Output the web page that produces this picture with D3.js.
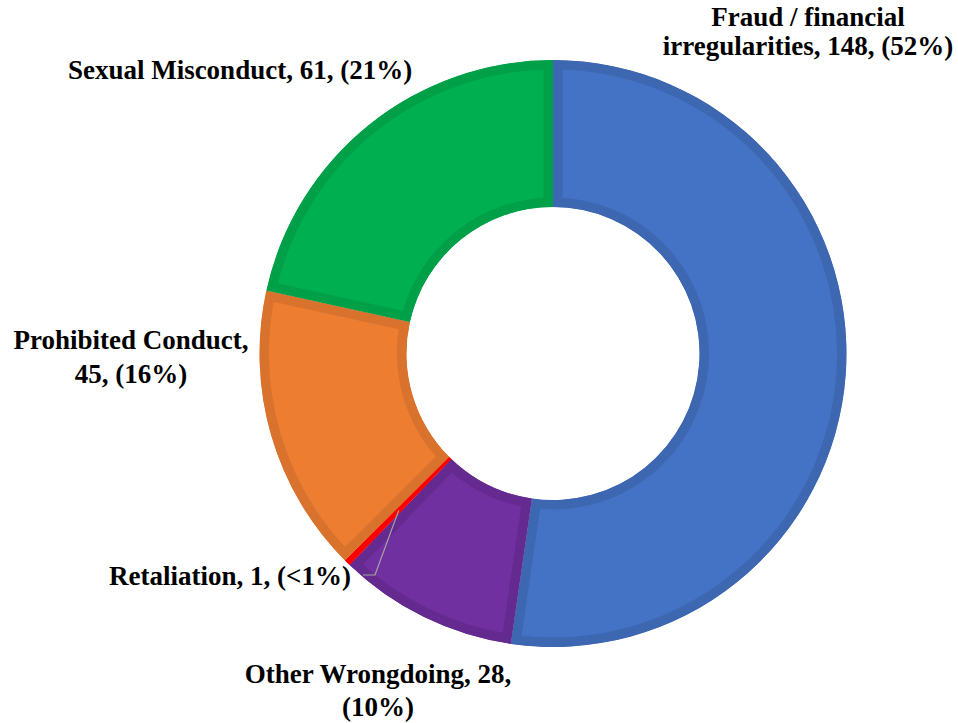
<!DOCTYPE html>
<html lang="en">
<head>
  <meta charset="UTF-8">
  <title>Cases by Category</title>
  <script src="https://d3js.org/d3.v7.min.js"></script>
  <style>
    body { margin: 0; background: #fff; }
    svg { display: block; }
    .lbl { font-family: 'Liberation Serif', 'Times New Roman', serif; font-weight: bold; font-size: 27px; fill: #000; }
  </style>
</head>
<body>
  <svg id="chart" width="958" height="723"></svg>
  <script>
    // data, clockwise from 12 o'clock
    const categories = ["Fraud / financial irregularities", "Other Wrongdoing", "Retaliation", "Prohibited Conduct", "Sexual Misconduct"];
    const values = [148, 28, 1, 45, 61];
    const pctLabels = ["52%", "10%", "<1%", "16%", "21%"];
    const fills = ["#4472C4", "#7030A0", "#FF0000", "#ED7D31", "#00B050"];
    const edges = ["#3E67B2", "#642A90", "#FF0000", "#D8722D", "#00A049"];

    // how each label is broken and where it sits
    const labelLayout = [
      { lines: ["Fraud / financial", "irregularities, 148, (52%)"], x: 808, y: 26, gap: 29 },
      { lines: ["Other Wrongdoing, 28,", "(10%)"], x: 378, y: 683, gap: 33 },
      { lines: ["Retaliation, 1, (<1%)"], x: 230, y: 585, leader: [363, 575, 375] },
      { lines: ["Prohibited Conduct,", "45, (16%)"], x: 131, y: 349, gap: 34 },
      { lines: ["Sexual Misconduct, 61, (21%)"], x: 240, y: 79 }
    ];

    const cx = 553, cy = 353.5, outerR = 293.5, innerR = 146.5;
    const svg = d3.select("#chart");
    const data = categories.map((c, i) => ({ name: c, value: values[i], pct: pctLabels[i], i }));

    const pie = d3.pie().sort(null).value(d => d.value);
    const arc = d3.arc().innerRadius(innerR).outerRadius(outerR);
    const arcs = pie(data);

    const defs = svg.append("defs");
    const g = svg.append("g").attr("transform", `translate(${cx},${cy})`);

    arcs.forEach((a, k) => {
      defs.append("clipPath").attr("id", "clip" + k)
        .append("path").attr("d", arc(a));
    });

    // darker inner border: double-width stroke clipped to the slice
    g.selectAll("path.slice").data(arcs).enter()
      .append("path")
      .attr("class", "slice")
      .attr("d", arc)
      .attr("fill", d => fills[d.data.i])
      .attr("stroke", d => edges[d.data.i])
      .attr("stroke-width", 19)
      .attr("stroke-linejoin", "miter")
      .attr("clip-path", (d, k) => `url(#clip${k})`);

    // leader line for the tiny slice
    arcs.forEach(a => {
      const L = labelLayout[a.data.i];
      if (!L.leader) return;
      const [px, py] = arc.centroid(a);
      svg.append("polyline")
        .attr("points", `${L.leader[0]},${L.leader[1]} ${L.leader[2]},${L.leader[1]} ${cx + px},${cy + py}`)
        .attr("fill", "none")
        .attr("stroke", "#A6A6A6")
        .attr("stroke-width", 1.2);
    });

    labelLayout.forEach(L => {
      const t = svg.append("text").attr("class", "lbl").attr("text-anchor", "middle");
      L.lines.forEach((ln, j) => {
        t.append("tspan").attr("x", L.x).attr("y", L.y + j * (L.gap || 32)).text(ln);
      });
    });
  </script>
</body>
</html>
